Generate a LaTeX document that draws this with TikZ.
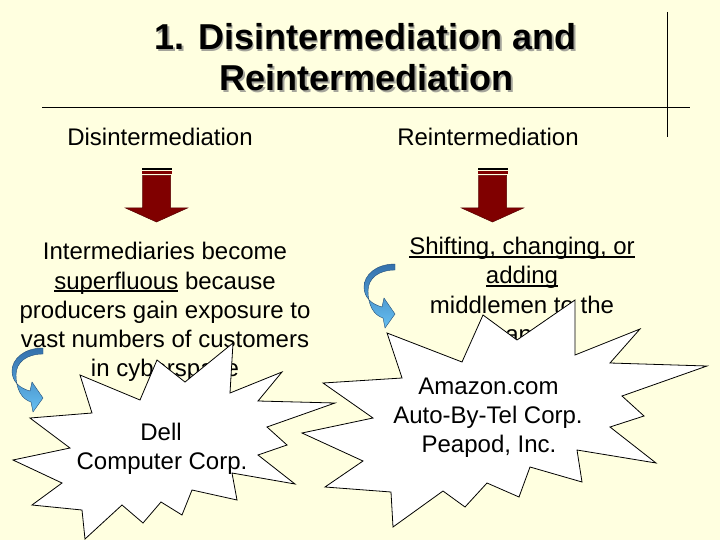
\documentclass[tikz,border=0pt]{standalone}
\usepackage{fontspec}
\setmainfont{Liberation Sans}
\definecolor{bg}{RGB}{255,255,224}
\definecolor{arrred}{RGB}{128,0,0}
\definecolor{arrdark}{RGB}{85,0,0}
\definecolor{cdark}{RGB}{52,112,172}
\definecolor{clight}{RGB}{102,192,242}
\definecolor{shadowgray}{RGB}{165,165,155}
\newsavebox\ulbox
\newcommand\myul[1]{\sbox\ulbox{#1}\rlap{\rule[-2.6bp]{\wd\ulbox}{1.2bp}}\usebox\ulbox}
\newcommand\shadowed[1]{\makebox[0pt][l]{\hspace{1.8bp}\raisebox{-1.8bp}{\color{shadowgray}#1}}#1}
\tikzset{
  bodytext/.style={font=\fontsize{24bp}{29bp}\selectfont, anchor=base, inner sep=0pt},
  titletext/.style={font=\fontsize{36bp}{41bp}\selectfont\bfseries, anchor=base, inner sep=0pt},
  starshape/.style={fill=white, draw=black, line width=0.8bp, line join=miter},
  redarrow/.style={fill=arrred, draw=arrdark, line width=0.5bp},
  curvarrow/.style={top color=cdark, bottom color=clight, draw=cdark!70!black, line width=0.4bp},
  rule/.style={draw=black, line width=1bp}
}
\begin{document}
\begin{tikzpicture}[x=1bp,y=-1bp]
\useasboundingbox (0,0) rectangle (720,540);
\fill[bg] (0,0) rectangle (720,540);

% title with shadow
\node[titletext] (t1) at (365.5,50) {\shadowed{1. Disintermediation and}};
\node[titletext] (t2) at (366.5,91) {\shadowed{Reintermediation}};

% rules
\coordinate (hl) at (42,108);
\coordinate (hr) at (690,108);
\coordinate (vt) at (667,12);
\coordinate (vb) at (667,137);
\draw[rule] (hl) -- (hr);
\draw[rule] (vt) -- (vb);

% column headers
\node[bodytext] (h1) at (160,146) {Disintermediation};
\node[bodytext] (h2) at (488,146) {Reintermediation};

% red arrows
\foreach \cx in {156.5, 492.5}{
  \begin{scope}[shift={(\cx,0)}]
    \fill[black] (-15,168) rectangle (15,169.8);
    \fill[arrred] (-15,171.3) rectangle (15,174);
    \path[redarrow] (-14,175.5) -- (14,175.5) -- (14,208) -- (31,208) -- (0,222) -- (-31,208) -- (-14,208) -- cycle;
  \end{scope}
}

% left body text
\node[bodytext] (l1) at (165,260) {Intermediaries become};
\node[bodytext] (l2) at (165,289) {\myul{superfluous} because};
\node[bodytext] (l3) at (165,318) {producers gain exposure to};
\node[bodytext] (l4) at (165,347) {vast numbers of customers};
\node[bodytext] (l5) at (165,376) {in cyberspace};

% right body text
\node[bodytext] (r1) at (522,255) {\myul{Shifting, changing, or}};
\node[bodytext] (r2) at (522,284) {\myul{adding}};
\node[bodytext] (r3) at (522,313) {middlemen to the};
\node[bodytext] (r4) at (522,342) {channel};

% curved arrows
\foreach \dx/\dy in {0/0, 352/-84}{
  \begin{scope}[shift={(\dx,\dy)}]
    \path[curvarrow] (43,348) .. controls (24,348) and (12,359) .. (12,371)
      .. controls (12,381) and (19,388) .. (30,391)
      -- (32,382) -- (43,398) -- (33,412) -- (31,402)
      .. controls (21,399) and (16,388) .. (16,375)
      .. controls (16,362) and (27,354) .. (43,354) -- cycle;
  \end{scope}
}

% left star
\path[starshape] (80,375) -- (140,400) -- (157,360) -- (185,382) -- (233,343)
  -- (230,393) -- (282,372) -- (258,401) -- (335,403) -- (267,427) -- (287,445)
  -- (258,455) -- (295,484) -- (232,473) -- (237,500) -- (192,490) -- (182,515)
  -- (161,502) -- (143,523) -- (122,505) -- (85,539) -- (82,510) -- (32,505)
  -- (62,483) -- (13,460) -- (70,448) -- (30,418) -- (92,413) -- cycle;
\node[bodytext] (s1a) at (161,440) {Dell};
\node[bodytext] (s1b) at (162,469) {Computer Corp.};

% right star
\path[starshape] (387,333) -- (462,362) -- (483,315) -- (517,340) -- (575,300)
  -- (575,355) -- (640,329) -- (610,363) -- (707,366) -- (622,396) -- (644,416)
  -- (610,427) -- (656,463) -- (577,450) -- (582,482) -- (530,467) -- (519,497)
  -- (487,483) -- (465,507) -- (443,491) -- (393,527) -- (391,492) -- (325,487)
  -- (363,461) -- (302,433) -- (373,418) -- (323,383) -- (402,378) -- cycle;
\node[bodytext] (s2a) at (488.5,394) {Amazon.com};
\node[bodytext] (s2b) at (488,423) {Auto-By-Tel Corp.};
\node[bodytext] (s2c) at (489,452) {Peapod, Inc.};
\end{tikzpicture}
\end{document}
